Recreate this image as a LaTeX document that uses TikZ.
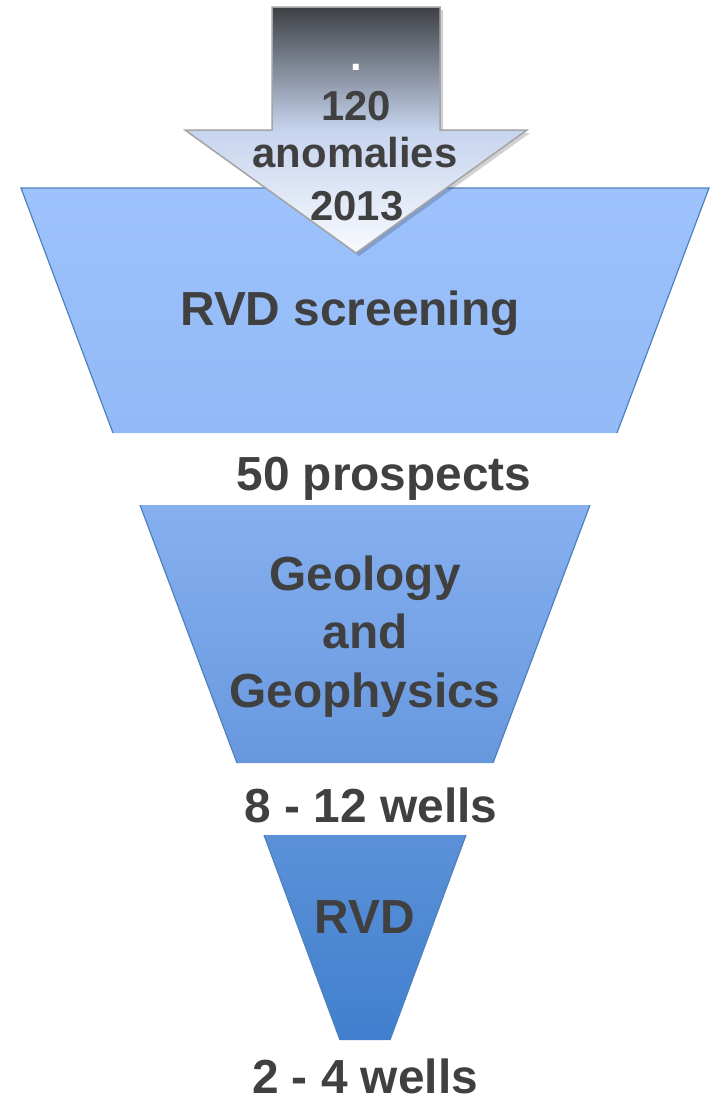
\documentclass[tikz,border=0pt]{standalone}
\usepackage{fontspec}
\setmainfont{Liberation Sans}
\usepackage{tikz}
\usetikzlibrary{shadows}

\definecolor{txtgray}{RGB}{64,64,64}
\definecolor{edgeblue}{RGB}{79,129,189}
\definecolor{arrowdark}{RGB}{62,64,68}
\definecolor{arrowmid}{RGB}{198,212,238}
\definecolor{arrowlight}{RGB}{248,250,254}

% dark on top, light blue at the shoulder, white at the tip
\pgfdeclareverticalshading{arrowshade}{100bp}{color(0bp)=(arrowlight); color(25bp)=(arrowlight);
  color(50bp)=(arrowmid); color(75bp)=(arrowdark); color(100bp)=(arrowdark)}

\tikzset{
  bigtxt/.style={anchor=base, inner sep=1bp, text=txtgray, font=\fontsize{48}{56}\selectfont\bfseries},
  arrowtxt/.style={anchor=base, inner sep=1bp, text=txtgray, font=\fontsize{42}{50}\selectfont\bfseries},
  edge/.style={draw=edgeblue, line width=1.2bp}
}

\begin{document}
\begin{tikzpicture}[x=1bp,y=-1bp]
\useasboundingbox (0,0) rectangle (711,1100);

% funnel bands
\shade[top color={rgb,255:red,157;green,194;blue,252}, bottom color={rgb,255:red,146;green,186;blue,246}]
  (21,188)--(709,188)--(617,433)--(113,433)--cycle;
\draw[edge] (113,433)--(21,188)--(709,188)--(617,433);

\shade[top color={rgb,255:red,134;green,176;blue,240}, bottom color={rgb,255:red,103;green,152;blue,222}]
  (140,505)--(590,505)--(493,763)--(237,763)--cycle;
\draw[edge] (140,505)--(237,763);
\draw[edge] (590,505)--(493,763);

\shade[top color={rgb,255:red,92;green,145;blue,216}, bottom color={rgb,255:red,64;green,127;blue,206}]
  (264,835)--(466,835)--(390,1040)--(340,1040)--cycle;
\draw[edge] (264,835)--(340,1040);
\draw[edge] (466,835)--(390,1040);

% down arrow
\fill[black, opacity=0.18] (275,10)--(443,10)--(443,133)--(530,133)--(359,256)--(188,133)--(275,133)--cycle;
\shade[shading=arrowshade]
  (272,7)--(440,7)--(440,130)--(527,130)--(356,253)--(185,130)--(272,130)--cycle;
\draw[draw={rgb,255:red,165;green,165;blue,165}, line width=1.5bp]
  (272,7)--(440,7)--(440,130)--(527,130)--(356,253)--(185,130)--(272,130)--cycle;

\node[arrowtxt, text=white] (dot) at (356,70) {.};
\node[arrowtxt] (count) at (356,120) {120};
\node[arrowtxt] (anom) at (355,167) {anomalies};
\node[arrowtxt] (year) at (357,220) {2013};

% stage labels
\node[bigtxt] (screen) at (350,325) {RVD screening};
\node[bigtxt] (prosp) at (384,490) {50 prospects};
\node[bigtxt] (geo1) at (365,590) {Geology};
\node[bigtxt] (geo2) at (365,648) {and};
\node[bigtxt] (geo3) at (365,707) {Geophysics};
\node[bigtxt] (wells1) at (371,822) {8 - 12 wells};
\node[bigtxt] (rvd) at (365,933) {RVD};
\node[bigtxt] (wells2) at (365,1093) {2 - 4 wells};

\end{tikzpicture}
\end{document}
